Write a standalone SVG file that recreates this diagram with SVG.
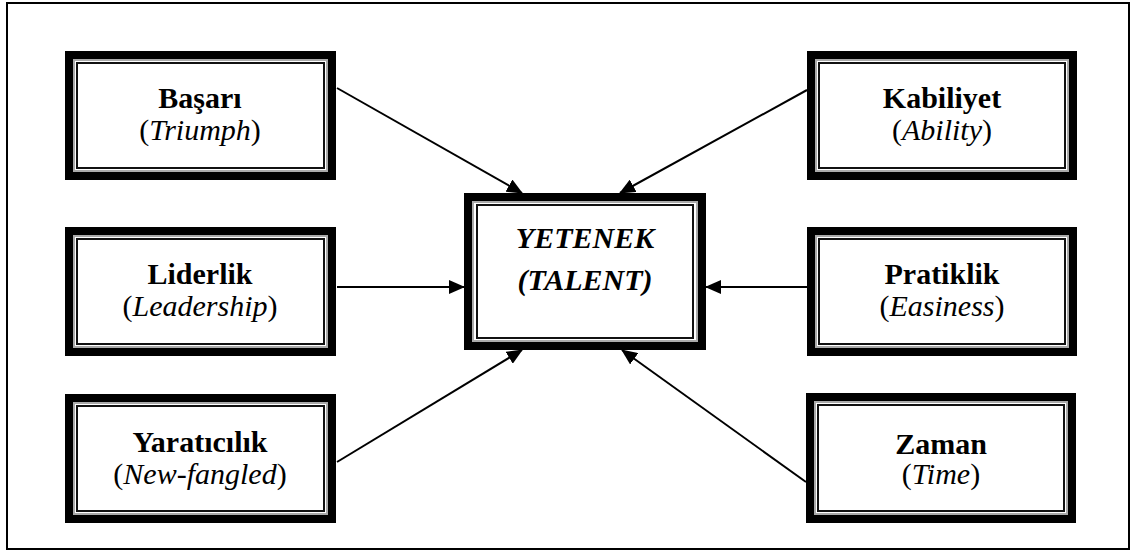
<svg xmlns="http://www.w3.org/2000/svg" width="1131" height="552" viewBox="0 0 1131 552">
<style>
.outer{fill:#fff;stroke:#000;stroke-width:8}
.mid{fill:none;stroke:#aaa;stroke-width:2}
.inner{fill:none;stroke:#111;stroke-width:2}
text{font-family:'Liberation Serif','Times New Roman',serif;font-size:30px;fill:#000;text-anchor:middle}
.b{font-weight:bold}
.i{font-style:italic}
.c{font-weight:bold;font-style:italic}
.conn line{stroke:#000;stroke-width:2}
</style>
<defs>
<marker id="arr" markerUnits="userSpaceOnUse" markerWidth="16" markerHeight="14" refX="15" refY="7" orient="auto">
<path d="M0,0 L16,7 L0,14 Z" fill="#000"/>
</marker>
</defs>
<rect x="7" y="3" width="1122" height="546" fill="#fff" stroke="#000" stroke-width="2"/>
<g class="conn">
<line x1="337" y1="88" x2="522" y2="193" marker-end="url(#arr)"/>
<line x1="807" y1="90" x2="620" y2="193" marker-end="url(#arr)"/>
<line x1="337" y1="287" x2="464" y2="287" marker-end="url(#arr)"/>
<line x1="807" y1="287" x2="706" y2="287" marker-end="url(#arr)"/>
<line x1="337" y1="462" x2="522" y2="350" marker-end="url(#arr)"/>
<line x1="806" y1="482" x2="622" y2="350" marker-end="url(#arr)"/>
</g>
<g id="yetenek">
<rect class="outer" x="468" y="197" width="234" height="149"/>
<rect class="mid" x="473" y="202" width="224" height="139"/>
<rect class="inner" x="477" y="205" width="216" height="133"/>
<text class="c" x="585" y="248">YETENEK</text>
<text class="c" x="585" y="290">(TALENT)</text>
</g>
<g id="basari">
<rect class="outer" x="69" y="55" width="263" height="121"/>
<rect class="mid" x="74" y="60" width="253" height="111"/>
<rect class="inner" x="77" y="63" width="247" height="105"/>
<text class="b" x="200" y="108">Başarı</text>
<text x="200" y="140">(<tspan class="i">Triumph</tspan>)</text>
</g>
<g id="liderlik">
<rect class="outer" x="69" y="231" width="263" height="121"/>
<rect class="mid" x="74" y="236" width="253" height="111"/>
<rect class="inner" x="77" y="239" width="247" height="105"/>
<text class="b" x="200" y="284">Liderlik</text>
<text x="200" y="316">(<tspan class="i">Leadership</tspan>)</text>
</g>
<g id="yaraticilik">
<rect class="outer" x="69" y="398" width="263" height="121"/>
<rect class="mid" x="74" y="403" width="253" height="111"/>
<rect class="inner" x="77" y="406" width="247" height="105"/>
<text class="b" x="200" y="452">Yaratıcılık</text>
<text x="200" y="484">(<tspan class="i">New-fangled</tspan>)</text>
</g>
<g id="kabiliyet">
<rect class="outer" x="811" y="55" width="262" height="121"/>
<rect class="mid" x="816" y="60" width="252" height="111"/>
<rect class="inner" x="819" y="63" width="246" height="105"/>
<text class="b" x="942" y="108">Kabiliyet</text>
<text x="942" y="140">(<tspan class="i">Ability</tspan>)</text>
</g>
<g id="pratiklik">
<rect class="outer" x="811" y="231" width="262" height="121"/>
<rect class="mid" x="816" y="236" width="252" height="111"/>
<rect class="inner" x="819" y="239" width="246" height="105"/>
<text class="b" x="942" y="284">Pratiklik</text>
<text x="942" y="316">(<tspan class="i">Easiness</tspan>)</text>
</g>
<g id="zaman">
<rect class="outer" x="810" y="397" width="262" height="122"/>
<rect class="mid" x="815" y="402" width="252" height="112"/>
<rect class="inner" x="818" y="405" width="246" height="106"/>
<text class="b" x="941" y="454">Zaman</text>
<text x="941" y="484">(<tspan class="i">Time</tspan>)</text>
</g>
</svg>
